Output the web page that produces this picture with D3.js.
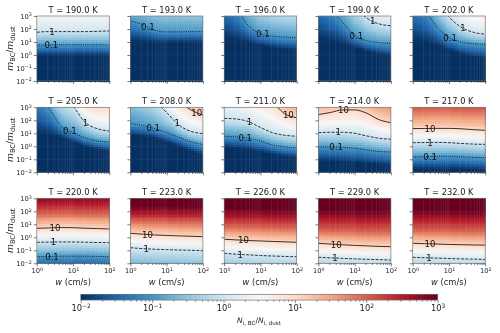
<!DOCTYPE html>
<html><head><meta charset="utf-8">
<script src="https://cdn.jsdelivr.net/npm/d3@7"></script>
<style>
html,body{margin:0;padding:0;background:#fff}
svg{display:block;filter:blur(0.5px)}
text{font-family:"DejaVu Sans",sans-serif;fill:#222}
</style></head><body>
<svg id="c" width="500" height="333"></svg>
<script>
const temperatures=[190,193,196,199,202,205,208,211,214,217,220,223,226,229,232];
// log10(w) sample columns
const logWSamples=[0,0.33,0.67,1,1.33,1.67,2];
const wTicksMajor=[1,10,100];
const wTicksMinor=[2,3,4,5,6,7,8,9,20,30,40,50,60,70,80,90];
const mTicks=[0.01,0.1,1,10,100,1000];
const cbarTicks=[0.01,0.1,1,10,100,1000];
const cbarMinor=[2,3,4,5,6,7,8,9].flatMap(d=>[d*0.01,d*0.1,d,d*10,d*100]);
const rdBuStops=["#053061","#2166ac","#4393c3","#92c5de","#d1e5f0","#f7f7f7","#fddbc7","#f4a582","#d6604d","#b2182b","#67001f"];
// log10(m) at which the ratio crosses each level, one row per temperature
const iso001=[
[0,0,0,0,0,0,0],[1.1,1.05,1,1,1,1,1],[1.3,1.2,1,.8,.6,.5,.4],[1.2,1.1,.9,.6,.3,.1,0],[1.1,1,.8,.4,.1,-.1,-.2],
[1,.9,.7,.35,0,-.2,-.35],[.85,.8,.65,.35,0,-.35,-.6],[-.05,-.1,-.2,-.4,-.6,-.75,-.85],[-1.1,-1.1,-1.15,-1.2,-1.3,-1.35,-1.4],[-1.7,-1.7,-1.7,-1.7,-1.7,-1.75,-1.75],
[-2.6,-2.6,-2.55,-2.55,-2.55,-2.6,-2.6],[-3.7,-3.7,-3.75,-3.8,-3.8,-3.85,-3.9],[-4.2,-4.2,-4.3,-4.3,-4.4,-4.4,-4.5],[-4.6,-4.6,-4.7,-4.7,-4.8,-4.8,-4.9],[-4.6,-4.6,-4.7,-4.7,-4.75,-4.8,-4.85]];
const iso01=[
[.75,.78,.78,.78,.78,.78,.75],[2.6,2.35,1.9,1.78,1.78,1.8,1.8],[4.4,3.6,2.25,1.65,1.45,1.38,1.33],[4.6,3.6,2.5,1.5,1.1,.95,.9],[4.4,3.5,2.15,1.35,1,.88,.82],
[3.9,2.95,1.55,1.05,.65,.42,.33],[1.75,1.6,1.35,1.05,.7,.35,.13],[.77,.72,.62,.4,.1,-.05,-.13],[-.05,-.05,-.08,-.15,-.28,-.4,-.44],[-.82,-.8,-.77,-.77,-.8,-.85,-.87],
[-1.5,-1.48,-1.45,-1.45,-1.45,-1.47,-1.5],[-2.6,-2.62,-2.65,-2.7,-2.75,-2.8,-2.85],[-3.1,-3.15,-3.2,-3.25,-3.3,-3.35,-3.4],[-3.5,-3.5,-3.6,-3.6,-3.7,-3.75,-3.8],[-3.5,-3.5,-3.6,-3.6,-3.65,-3.7,-3.75]];
const iso1=[
[1.75,1.8,1.8,1.8,1.8,1.82,1.85],[4.6,4.5,4.4,4.3,4.25,4.2,4.2],[7,6,5,4,3.6,3.4,3.3],[8,7,5.5,3.8,2.85,2.4,2.25],[7,5.5,4.3,2.95,2.15,1.75,1.6],
[5.5,4.5,3.6,3.05,1.85,1.35,1.18],[5,4.3,3.5,2.6,1.65,1.15,.98],[2.15,2.1,1.9,1.45,1.05,.85,.77],[1.05,1.08,1.08,1,.8,.62,.54],[.28,.29,.3,.28,.22,.17,.15],
[-.38,-.37,-.36,-.36,-.38,-.4,-.41],[-.8,-.87,-.92,-.95,-.98,-1,-1.03],[-1.23,-1.3,-1.35,-1.4,-1.44,-1.47,-1.5],[-1.54,-1.58,-1.62,-1.66,-1.69,-1.72,-1.75],[-1.54,-1.57,-1.6,-1.63,-1.66,-1.68,-1.7]];
const iso10=[
[4.5,4.5,4.5,4.5,4.5,4.5,4.5],[6.5,6.5,6.5,6.5,6.5,6.5,6.5],[8,8,8,7,6,5.5,5.3],[9,9,8,7,5.6,5,4.8],[9,8,7,5.4,4.2,3.8,3.7],
[7,6.5,5.5,4.6,3.4,3.12,3.05],[6,5.5,5,4.2,3.5,2.8,2.4],[5.5,5,4.5,4,3.4,2.5,2.2],[2.44,2.6,2.8,2.8,2.55,2.05,1.82],[1.36,1.37,1.38,1.38,1.35,1.28,1.23],
[.69,.72,.75,.74,.7,.67,.64],[.31,.24,.18,.14,.11,.08,.05],[-.15,-.2,-.25,-.28,-.32,-.35,-.38],[-.46,-.52,-.58,-.62,-.66,-.7,-.72],[-.46,-.49,-.52,-.55,-.57,-.59,-.6]];
const iso100=[
[6.5,6.5,6.5,6.5,6.5,6.5,6.5],[8.5,8.5,8.5,8.5,8.5,8.5,8.5],[10,10,10,9,8,7.5,7.3],[11,11,10,9,7.6,7,6.8],[11,10,9,7.4,6.2,5.8,5.7],
[9,8.5,7.5,6.6,5.4,5.1,5],[8,7.5,7,6.2,5.5,4.8,4.4],[7.5,7,6.5,6,5.4,4.5,4.2],[4.2,4.3,4.4,4.4,4.2,3.9,3.8],[2.95,2.95,2.95,2.95,2.9,2.85,2.85],
[1.9,1.92,1.92,1.9,1.88,1.86,1.85],[1.3,1.28,1.25,1.22,1.2,1.18,1.15],[.87,.85,.82,.8,.77,.74,.72],[.58,.55,.53,.5,.47,.45,.43],[.58,.56,.55,.53,.51,.49,.48]];
const iso1000=[
[8.5,8.5,8.5,8.5,8.5,8.5,8.5],[10.5,10.5,10.5,10.5,10.5,10.5,10.5],[12,12,12,11,10,9.5,9.3],[13,13,12,11,9.6,9,8.8],[13,12,11,9.4,8.2,7.8,7.7],
[11,10.5,9.5,8.6,7.4,7.1,7],[10,9.5,9,8.2,7.5,6.8,6.4],[9.5,9,8.5,8,7.4,6.5,6.2],[6.2,6.3,6.4,6.4,6.2,5.9,5.8],[4.6,4.6,4.6,4.6,4.55,4.5,4.5],
[3.4,3.4,3.4,3.4,3.4,3.35,3.35],[2.5,2.48,2.46,2.44,2.42,2.4,2.4],[2.32,2.3,2.28,2.26,2.24,2.22,2.2],[2.22,2.2,2.18,2.16,2.14,2.12,2.1],[2.22,2.2,2.18,2.16,2.14,2.12,2.1]];
const isoLevels=[-2,-1,0,1,2,3];
// log10(w) where each contour carries its label, null = no label
const label01W=[.4,.48,1.07,1.05,1.03,.91,.63,.58,.49,.48,.42,null,null,null,null];
const label1W=[.42,null,null,1.5,1.39,1.34,1.29,.7,.55,.48,.46,.44,.44,.46,.45];
const label10W=[null,null,null,null,null,null,1.83,1.77,.69,.48,.5,.47,.53,.49,.48];

const svg=d3.select("#c");
const panelW=72.5,panelH=65;
const colX=[36.8,130.4,224.2,318.4,412.7];
const rowY=[16,107.3,198.3];
const colorScale=d3.scaleLinear().domain(d3.range(11).map(i=>-2+i*0.5)).range(rdBuStops).clamp(true);
const isoSets=[iso001,iso01,iso1,iso10,iso100,iso1000];
const nW=36,nM=33;

function sup(sel,base,exp){
  sel.text(null);
  sel.append("tspan").text(base);
  sel.append("tspan").attr("dy","-0.45em").style("font-size","0.72em").text(exp);
}
function powerLabels(axisG){
  axisG.selectAll(".tick text").each(function(d){
    const e=Math.round(Math.log10(d));
    sup(d3.select(this),"10",String(e).replace("-","\u2212"));
  });
}
temperatures.forEach((T,i)=>{
  const c=i%5,r=Math.floor(i/5);
  const g=svg.append("g").attr("transform",`translate(${colX[c]},${rowY[r]})`);
  const x=d3.scaleLog().domain([1,100]).range([0,panelW]);
  const y=d3.scaleLog().domain([0.01,1000]).range([panelH,0]);
  const lx=d3.scaleLinear().domain([0,2]).range([0,panelW]);
  const ly=d3.scaleLinear().domain([-2,3]).range([panelH,0]);
  const isoAt=isoSets.map(s=>d3.scaleLinear().domain(logWSamples).range(s[i]));
  const cells=[];
  for(let a=0;a<nW;a++)for(let b=0;b<nM;b++){
    const lw=(a+.5)/nW*2, lm=-2+(b+.5)/nM*5;
    const col=d3.scaleLinear().domain(isoAt.map(f=>f(lw))).range(isoLevels);
    cells.push({a,b,v:col(lm)});
  }
  g.selectAll("rect.cell").data(cells).join("rect").attr("class","cell")
   .attr("x",d=>lx(d.a/nW*2)).attr("width",panelW/nW+.5)
   .attr("y",d=>ly(-2+(d.b+1)/nM*5)).attr("height",panelH/nM+.5)
   .attr("fill",d=>colorScale(d.v)).attr("shape-rendering","crispEdges");
  // faint mesh lines
  g.selectAll("line.vm").data(wTicksMinor.concat(10)).join("line").attr("class","vm")
   .attr("x1",d=>x(d)).attr("x2",d=>x(d)).attr("y1",0).attr("y2",panelH)
   .attr("stroke","#fff").attr("stroke-opacity",.12).attr("stroke-width",.7);
  g.selectAll("line.hm").data(mTicks).join("line").attr("class","hm")
   .attr("x1",0).attr("x2",panelW).attr("y1",d=>y(d)).attr("y2",d=>y(d))
   .attr("stroke","#fff").attr("stroke-opacity",.08).attr("stroke-width",.7);
  // contours
  const clipId="clip"+i;
  g.append("clipPath").attr("id",clipId).append("rect").attr("width",panelW).attr("height",panelH);
  const line=d3.line().x((d,k)=>lx(logWSamples[k])).y(d=>ly(d)).curve(d3.curveMonotoneX);
  const contourG=g.append("g").attr("clip-path",`url(#${clipId})`);
  [[iso01,"1,1.2",label01W,"0.1"],[iso1,"3,1.4",label1W,"1"],[iso10,null,label10W,"10"]].forEach(([s,dash,lab,name])=>{
    contourG.append("path").attr("d",line(s[i])).attr("fill","none")
      .attr("stroke","#000").attr("stroke-opacity",.78).attr("stroke-width",1)
      .attr("stroke-dasharray",dash);
    if(lab[i]!==null){
      const f=d3.scaleLinear().domain(logWSamples).range(s[i]);
      g.append("text").attr("x",lx(lab[i])).attr("y",ly(Math.min(f(lab[i]),2.95)))
       .attr("dy","0.36em").attr("text-anchor","middle").style("font-size","8.6px").style("fill","#111").text(name);
    }
  });
  // spines
  g.append("rect").attr("width",panelW).attr("height",panelH).attr("fill","none").attr("stroke","#777").attr("stroke-width",.7);
  // axes
  const ax=g.append("g").attr("transform",`translate(0,${panelH})`)
    .call(d3.axisBottom(x).tickValues(wTicksMajor).tickSize(3).tickPadding(2.2));
  const axm=g.append("g").attr("transform",`translate(0,${panelH})`)
    .call(d3.axisBottom(x).tickValues(wTicksMinor).tickSize(1.7).tickFormat(""));
  const ay=g.append("g").call(d3.axisLeft(y).tickValues(mTicks).tickSize(3).tickPadding(2));
  [ax,axm,ay].forEach(a=>{a.select(".domain").remove();a.selectAll("line").attr("stroke","#222").attr("stroke-width",.6);});
  ax.selectAll("text").style("font-size","6.7px");ay.selectAll("text").style("font-size","6.7px");
  if(r===2)powerLabels(ax);else ax.selectAll("text").remove();
  if(c===0)powerLabels(ay);else ay.selectAll("text").remove();
  // title
  g.append("text").attr("x",panelW/2).attr("y",-3.5).attr("text-anchor","middle").style("font-size","8.3px").text(`T = ${T.toFixed(1)} K`);
  if(r===2){
    const t=g.append("text").attr("x",panelW/2).attr("y",panelH+21.5).attr("text-anchor","middle").style("font-size","8.3px");
    t.append("tspan").style("font-style","italic").text("w");
    t.append("tspan").text(" (cm/s)");
  }
  if(c===0){
    const t=g.append("text").attr("transform",`translate(-26.5,${panelH/2}) rotate(-90)`).attr("dy","0.3em").attr("text-anchor","middle").style("font-size","9.2px");
    t.append("tspan").style("font-style","italic").text("m");
    t.append("tspan").attr("dy","1.6").style("font-size","6.6px").text("BC");
    t.append("tspan").attr("dy","-1.6").text("/");
    t.append("tspan").style("font-style","italic").text("m");
    t.append("tspan").attr("dy","1.6").style("font-size","6.6px").text("dust");
  }
});
// colorbar
const cb=svg.append("g").attr("transform","translate(80.7,294.3)");
const cbW=357,cbH=5.8;
const cbx=d3.scaleLog().domain([0.01,1000]).range([0,cbW]);
const cbLin=d3.scaleLinear().domain([0,cbW]).range([-2,3]);
cb.selectAll("rect.c").data(d3.range(0,cbW,1)).join("rect").attr("class","c")
  .attr("x",d=>d).attr("width",1.5).attr("height",cbH).attr("fill",d=>colorScale(cbLin(d+.5))).attr("shape-rendering","crispEdges");
cb.append("rect").attr("width",cbW).attr("height",cbH).attr("fill","none").attr("stroke","#777").attr("stroke-width",.7);
const cax=cb.append("g").attr("transform",`translate(0,${cbH})`)
  .call(d3.axisBottom(cbx).tickValues(cbarTicks).tickSize(3).tickPadding(2));
const caxm=cb.append("g").attr("transform",`translate(0,${cbH})`)
  .call(d3.axisBottom(cbx).tickValues(cbarMinor).tickSize(1.7).tickFormat(""));
[cax,caxm].forEach(a=>{a.select(".domain").remove();a.selectAll("line").attr("stroke","#222").attr("stroke-width",.5);});
cax.selectAll("text").style("font-size","8.3px");
powerLabels(cax);
const cl=svg.append("text").attr("x",259).attr("y",323).attr("text-anchor","middle").style("font-size","7.5px");
cl.append("tspan").style("font-style","italic").text("N");
cl.append("tspan").attr("dy","1.6").style("font-size","5.6px").text("i, BC");
cl.append("tspan").attr("dy","-1.6").text("/");
cl.append("tspan").style("font-style","italic").text("N");
cl.append("tspan").attr("dy","1.6").style("font-size","5.6px").text("i, dust");
</script></body></html>
